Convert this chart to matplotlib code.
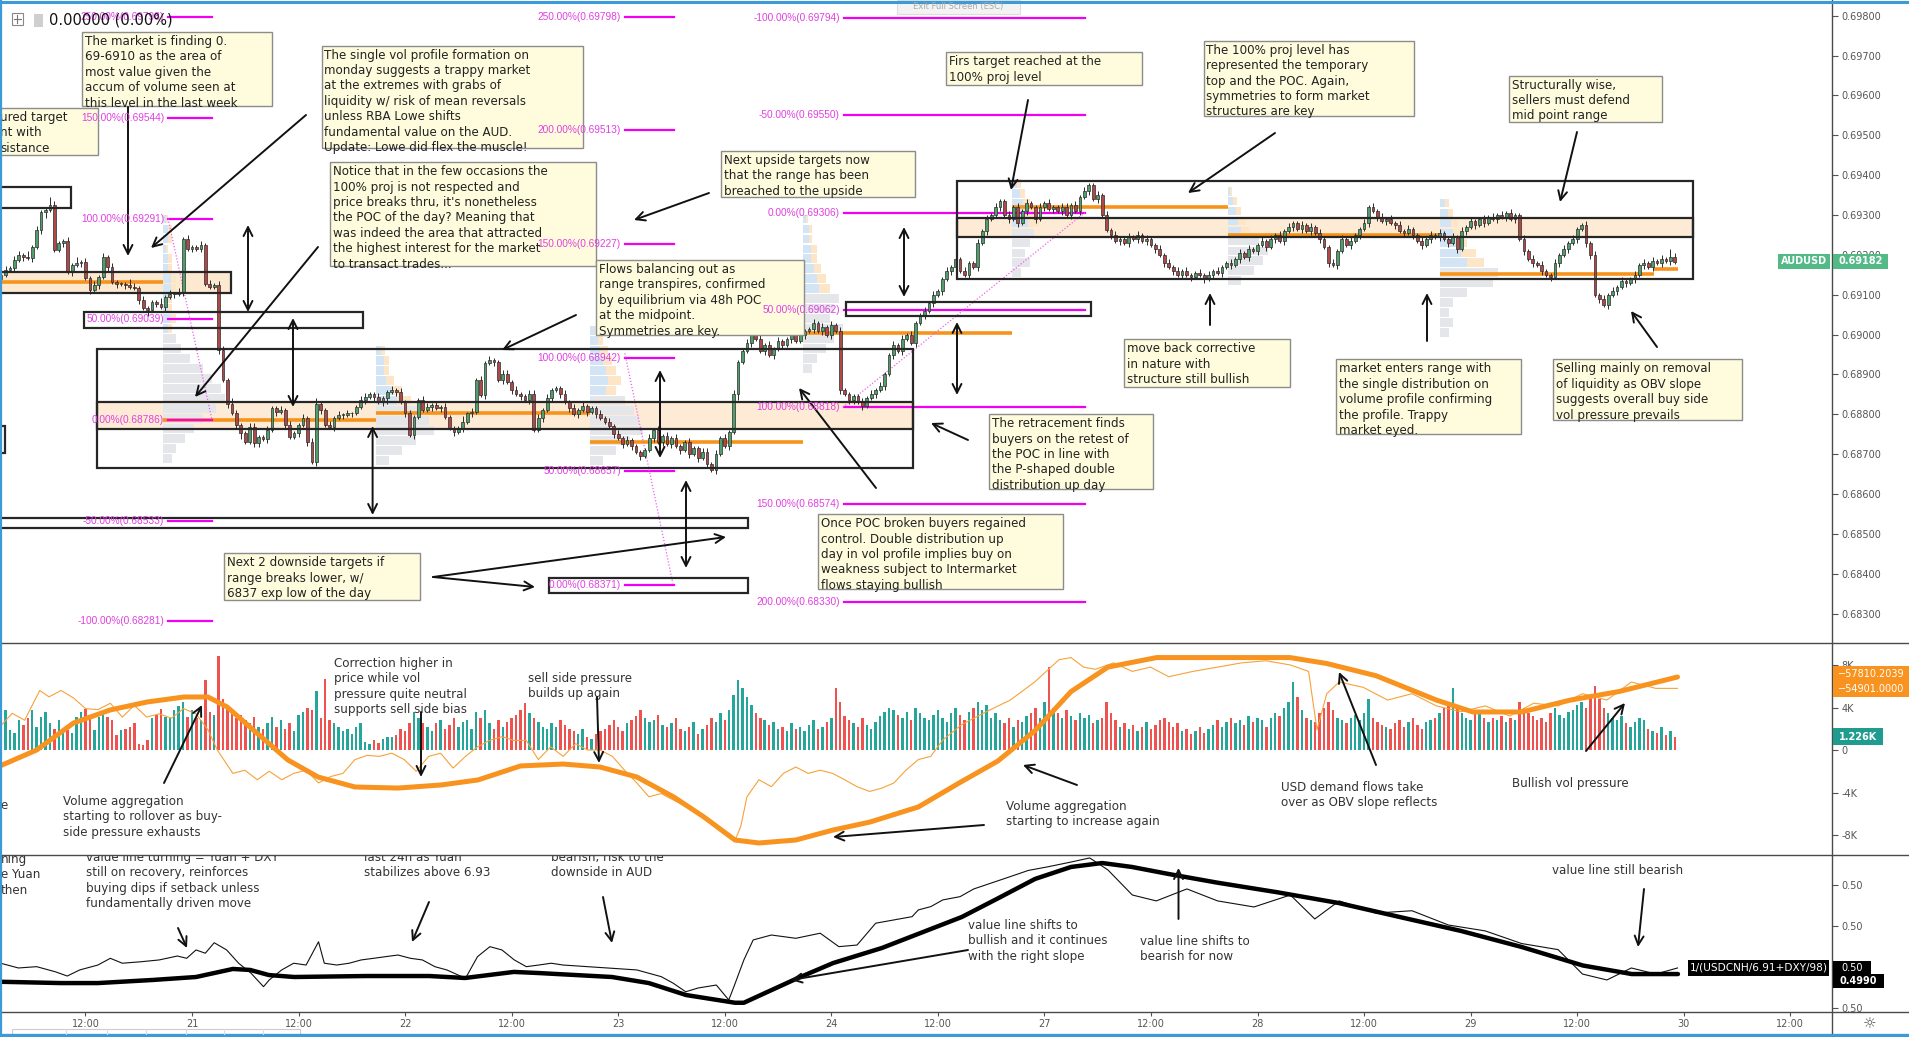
import matplotlib
matplotlib.use("Agg")
import matplotlib.pyplot as plt
import matplotlib.patches as mpatches
import matplotlib.transforms as mtransforms
import numpy as np

plt.rcParams['font.family'] = ['DejaVu Sans']

# AUDUSD 30 min closes, in 0.00001 above 0.68000 (bar 0 = 20th 02:30)
closes = [
    1149, 1162, 1166, 1187, 1200, 1195, 1191, 1220, 1262, 1308, 1312, 1325, 1212, 1229, 1235, 1158, 1174, 1179, 1183, 1141, 1112, 1124, 1145, 1195,
    1170, 1133, 1128, 1128, 1124, 1120, 1116, 1087, 1066, 1062, 1082, 1078, 1070, 1095, 1103, 1103, 1108, 1241, 1216, 1220, 1216, 1225, 1128, 1120,
    1124, 961, 886, 827, 802, 773, 752, 731, 769, 727, 744, 739, 760, 815, 806, 810, 773, 744, 752, 773, 790, 731, 681, 827,
    810, 773, 769, 790, 798, 798, 802, 802, 819, 836, 844, 852, 844, 831, 840, 857, 861, 857, 831, 802, 748, 794, 836, 811,
    819, 823, 815, 819, 794, 765, 756, 765, 781, 802, 806, 886, 848, 928, 936, 932, 886, 900, 880, 861, 850, 845, 836, 850,
    760, 790, 810, 840, 860, 865, 850, 830, 815, 800, 810, 820, 805, 815, 800, 790, 780, 770, 750, 740, 725, 735, 720, 705,
    695, 710, 740, 760, 730, 745, 725, 740, 720, 710, 730, 700, 715, 690, 705, 675, 660, 700, 740, 720, 755, 850, 930, 960,
    980, 1000, 990, 960, 975, 950, 965, 985, 975, 990, 1000, 985, 1000, 1010, 1015, 1030, 1010, 1020, 1000, 1025, 1010, 860, 850, 835,
    845, 830, 820, 840, 850, 860, 870, 900, 950, 975, 960, 990, 1000, 980, 1030, 1050, 1060, 1080, 1100, 1110, 1140, 1160, 1170, 1190,
    1160, 1150, 1180, 1170, 1230, 1260, 1290, 1300, 1320, 1335, 1300, 1290, 1320, 1280, 1310, 1330, 1320, 1290, 1320, 1330, 1315, 1320, 1310, 1320,
    1300, 1325, 1310, 1345, 1360, 1375, 1340, 1350, 1300, 1262, 1250, 1235, 1240, 1230, 1245, 1240, 1250, 1235, 1240, 1225, 1215, 1200, 1180, 1170,
    1160, 1150, 1160, 1150, 1145, 1155, 1150, 1140, 1150, 1160, 1155, 1170, 1180, 1175, 1190, 1205, 1195, 1215, 1210, 1225, 1235, 1220, 1240, 1250,
    1235, 1260, 1270, 1280, 1265, 1275, 1260, 1270, 1255, 1240, 1220, 1180, 1175, 1210, 1240, 1225, 1235, 1250, 1265, 1280, 1320, 1310, 1295, 1285,
    1290, 1280, 1275, 1260, 1255, 1265, 1250, 1235, 1225, 1240, 1250, 1245, 1255, 1240, 1230, 1245, 1215, 1260, 1270, 1285, 1275, 1290, 1280, 1295,
    1290, 1300, 1295, 1305, 1290, 1300, 1240, 1210, 1190, 1180, 1175, 1160, 1150, 1145, 1180, 1200, 1215, 1230, 1240, 1265, 1275, 1230, 1200, 1100,
    1090, 1075, 1100, 1110, 1120, 1135, 1130, 1140, 1150, 1175, 1180, 1170, 1185, 1180, 1190, 1185, 1195, 1182,
]
first_open = 1140
# wick lengths beyond the body, in half pips
wick_hi = ("121221312114211213121212" "121113212111312121211212" "122132112211211212112123"
           "112121211221121121212112" "212121113121212112212112" "221211121212111212121211"
           "112121212112112212121211" "211212121121211212121211" "112121211212121121211212"
           "121121212112121211212112" "212121121212112121211212" "121211212121121212112121"
           "212112121211212121121212" "121212112121211212121121" "212121121212112121211212"
           "121212112121212142")
wick_lo = ("211212121231112121212121" "212121121312121212121211" "121212311221212121121212"
           "211212121121212312121211" "121211212121121212121212" "112121212121212111212121"
           "211212121212121212112131" "121121212121121212121212" "212112121212112121212121"
           "112121211212121212121212" "121212121121212121212121" "212121121212121212121212"
           "121212121212121121212121" "212121212121212121212121" "121212121212121212121221"
           "212121212121212121")

# volume per bar, hundreds
volume = [
    22, 38, 19, 16, 28, 24, 30, 38, 22, 31, 36, 25, 20, 28, 20, 19, 16, 31, 36, 39, 31, 19, 31, 35,
    31, 28, 14, 19, 20, 22, 25, 6, 5, 9, 30, 33, 39, 31, 30, 38, 41, 45, 31, 38, 30, 28, 66, 36,
    33, 88, 48, 40, 36, 30, 33, 28, 25, 31, 22, 20, 25, 31, 22, 28, 20, 25, 18, 33, 36, 40, 38, 56,
    30, 67, 28, 25, 22, 18, 20, 15, 22, 25, 8, 6, 9, 7, 10, 12, 12, 14, 20, 18, 25, 36, 30, 25,
    22, 18, 25, 28, 20, 24, 30, 22, 26, 28, 20, 36, 30, 38, 25, 20, 28, 22, 26, 30, 33, 38, 44, 35,
    30, 26, 22, 20, 25, 22, 28, 24, 20, 18, 15, 20, 12, 10, 15, 18, 20, 24, 28, 22, 18, 25, 28, 32,
    38, 30, 26, 28, 33, 24, 22, 25, 30, 20, 18, 22, 26, 15, 20, 24, 30, 26, 35, 28, 38, 52, 66, 58,
    50, 42, 35, 30, 28, 24, 26, 20, 22, 18, 25, 20, 22, 18, 24, 28, 20, 22, 26, 30, 58, 45, 32, 28,
    25, 22, 30, 24, 20, 26, 32, 36, 40, 38, 33, 30, 36, 28, 40, 35, 30, 28, 33, 38, 30, 26, 35, 40,
    33, 28, 36, 40, 45, 38, 42, 30, 35, 28, 25, 30, 22, 28, 26, 32, 35, 40, 30, 45, 78, 40, 35, 30,
    38, 32, 28, 35, 30, 33, 25, 28, 30, 45, 35, 28, 22, 25, 20, 24, 18, 22, 26, 20, 24, 28, 30, 26,
    22, 25, 18, 20, 15, 18, 22, 16, 20, 24, 28, 22, 26, 30, 25, 28, 24, 32, 26, 30, 28, 22, 30, 35,
    32, 40, 45, 64, 50, 38, 30, 28, 26, 35, 40, 45, 38, 30, 28, 25, 30, 33, 28, 35, 48, 30, 26, 24,
    22, 20, 25, 28, 22, 26, 30, 24, 20, 26, 28, 30, 35, 40, 45, 58, 42, 35, 30, 28, 34, 38, 30, 26,
    30, 28, 32, 26, 30, 28, 45, 40, 35, 32, 28, 30, 26, 35, 40, 33, 30, 36, 38, 42, 45, 40, 50, 60,
    48, 40, 35, 30, 28, 32, 25, 22, 26, 30, 28, 20, 18, 16, 22, 14, 18, 12,
]

# volume aggregation (thick) and OBV (thin), in K
obv_bars = [-0.25, 8, 16.3, 24.5, 32.9, 41.2, 46.6, 50.9, 57.6, 64.6, 71.4, 79.7, 89.4, 99.1, 107.4,
            117, 126.6, 134.9, 143.2, 151.5, 158.3, 165.3, 170.7, 179, 187.4, 195.7, 206.6, 215.8,
            224.5, 232.9, 241, 249.3, 260.3, 274, 290.3, 298.6, 309.7, 323.3, 331.5, 342.5, 353.5,
            364.4, 377.6]
obv_vals = [-1.5, 0.0, 2.54, 3.76, 4.52, 4.99, 4.99, 4.05, 1.6, -0.94, -2.54, -3.48, -3.58, -3.29,
            -2.82, -1.5, -1.32, -1.6, -2.54, -4.42, -6.3, -8.47, -8.75, -8.47, -7.53, -6.78, -5.36,
            -3.1, -1.04, 1.83, 5.5, 7.8, 8.7, 8.7, 8.7, 8.14, 6.99, 4.7, 3.58, 3.58, 4.7, 5.5, 6.87]
obv_thin_bars = [-0.25, 2.5, 5.3, 8.7, 10.8, 13.5, 16.3, 19, 21.8, 24.6,
                 27.3, 30, 32.8, 35.6, 38.4, 41.1, 43.9, 46.6, 48.7, 52.2,
                 54.9, 57.7, 60.4, 63.2, 65.9, 68.7, 71.5, 74.2, 77, 79.7,
                 82.5, 85.2, 88, 90.8, 93.5, 96.3, 99, 101.8, 104.6, 107.3,
                 110, 112.8, 115.6, 118.3, 121, 123.8, 126.6, 129.4, 132.1, 134.9,
                 137.7, 140.4, 143.2, 145.9, 148.7, 151.4, 154.2, 157, 159.7, 162.5,
                 165.2, 166.6, 168, 170.7, 173.5, 176.2, 179, 181.8, 184.5, 187.3,
                 190, 192.8, 195.6, 198.3, 201.1, 203.8, 206.6, 209.4, 212.1, 216.4,
                 221.9, 227.3, 232.8, 238.3, 241, 243.8, 246.5, 250.6, 254.8, 258.9,
                 263, 268.5, 274, 279.4, 284.9, 290.4, 294.5, 296.4, 298.6, 301.4,
                 306.8, 312.3, 317.8, 323.3, 328.8, 334.3, 339.8, 345.2, 350.7, 356.2,
                 361.7, 367.2, 372.7, 377.6]
obv_thin_vals = [2.2, 3.45, 2.8, 5.6, 5.0, 5.6, 4.9, 3.9, 3.8, 4.4,
                 3.1, 4.2, 3.1, 3.4, 3.0, 3.9, 3.4, 1.9, 0.0, -2.2,
                 -1.9, -2.8, -2.0, -2.8, -2.2, -1.9, -3.1, -2.5, -2.2, -0.9,
                 -0.5, -0.6, -0.3, -0.9, -2.0, -0.6, -0.3, -1.7, -0.6, 0.3,
                 0.9, 1.25, 0.9, 0.9, -0.9, 0.3, -0.6, 0.6, 0.0, 0.0,
                 -0.6, -1.9, -3.1, -4.4, -4.1, -4.7, -5.3, -6.0, -6.9, -7.8,
                 -8.6, -7.2, -4.4, -2.8, -3.45, -2.2, -1.6, -2.2, -1.9, -2.2,
                 -2.8, -3.45, -3.9, -3.6, -3.1, -1.9, -0.9, -0.6, 0.94, 2.4,
                 3.6, 4.7, 6.4, 8.5, 8.7, 7.8, 7.6, 8.2, 7.4, 7.8,
                 6.9, 7.4, 7.8, 8.2, 8.4, 8.0, 7.4, 1.9, 5.3, 6.4,
                 5.9, 4.7, 5.3, 4.15, 3.6, 4.15, 3.2, 4.4, 4.15, 5.3,
                 4.7, 6.4, 5.8, 5.8]

# value line 1/(USDCNH/6.91+DXY/98): smoothed (thick) and raw (thin)
value_bars = [-0.25, 13.5, 21.8, 34.2, 43.9, 52.2, 56.1, 60.3, 66, 82.4,
              96.4, 104.5, 115.5, 121.2, 137.6, 145.9, 154.3, 165.3, 167.3, 179,
              187.4, 198.4, 216.4, 224.5, 232.9, 241, 248, 254.7, 263, 274,
              287.6, 301.3, 315, 328.8, 342.5, 356.3, 367.3, 377.7]
value_vals = [0.49910, 0.49902, 0.49902, 0.49921, 0.49939, 0.49988, 0.49982, 0.49951, 0.49939, 0.49945,
              0.49945, 0.49933, 0.49970, 0.49963, 0.49939, 0.49902, 0.49829, 0.49782, 0.49782, 0.49927,
              0.50024, 0.50116, 0.50305, 0.50418, 0.50537, 0.50610, 0.50634, 0.50610, 0.50567, 0.50514,
              0.50455, 0.50390, 0.50305, 0.50220, 0.50122, 0.50009, 0.49957, 0.49957]
raw_bars = [-0.25, 3.9, 8.0, 12.2, 14.9, 17.7, 21.8, 24.6, 27.3, 31.5,
            35.6, 39.7, 41.8, 43.9, 46, 48, 50.8, 53.5, 56.3, 59.1,
            60.4, 63.2, 65.9, 68.7, 71.5, 72.8, 75.6, 78.4, 81.1, 83.9,
            86.6, 89.4, 92.2, 94.9, 97.7, 100.4, 104.6, 107.3, 110.1, 112.8,
            115.6, 118.3, 121.1, 123.9, 126.6, 132.1, 137.7, 143.2, 148.7, 151.4,
            154.2, 157, 161.1, 163.9, 165.2, 167.3, 169.4, 173.5, 179, 184.5,
            188.7, 192.8, 197, 201.1, 205.2, 206.6, 209.4, 212.1, 216, 219.1,
            227.3, 231.4, 235.6, 241, 245.2, 249.3, 254.8, 260.2, 267.1, 274,
            282.2, 290.4, 295.9, 301.4, 309.6, 317.8, 326, 334.3, 342.5, 350.7,
            356.2, 361.7, 367.2, 372.7, 377.6]
raw_vals = [0.50024, 0.49994, 0.50002, 0.49971, 0.49945, 0.49982, 0.50012, 0.50053, 0.50023, 0.50032,
            0.50043, 0.50067, 0.50053, 0.50104, 0.50084, 0.50148, 0.50104, 0.50023, 0.49962, 0.49880,
            0.49921, 0.49982, 0.50023, 0.50012, 0.50154, 0.50023, 0.50012, 0.50023, 0.50043, 0.50053,
            0.50063, 0.50073, 0.50053, 0.50043, 0.50002, 0.49982, 0.49931, 0.50063, 0.50124, 0.50104,
            0.50043, 0.50002, 0.50012, 0.50023, 0.50012, 0.50002, 0.49992, 0.49982, 0.49941, 0.49901,
            0.49849, 0.49872, 0.49890, 0.49799, 0.49890, 0.50043, 0.50165, 0.50195, 0.50175, 0.50206,
            0.50124, 0.50134, 0.50267, 0.50287, 0.50307, 0.50348, 0.50368, 0.50409, 0.50429, 0.50476,
            0.50551, 0.50589, 0.50610, 0.50640, 0.50665, 0.50592, 0.50439, 0.50403, 0.50476, 0.50403,
            0.50366, 0.50439, 0.50293, 0.50403, 0.50329, 0.50343, 0.50256, 0.50220, 0.50143, 0.50106,
            0.49957, 0.49921, 0.49994, 0.49957, 0.49994]

# session volume profiles: start bar, top price, row lengths (bars), 0.00025 per row
profile_start = [36.5, 84.4, 132.6, 180.7, 227.7, 276.3, 324.1]
profile_top = [0.6929, 0.6896, 0.6901, 0.6929, 0.6938, 0.6936, 0.6933]
profile_rows = [
    [1, 2, 2, 1, 2, 2, 3, 3, 2, 2, 3, 2, 3, 4, 6, 9, 11, 13, 14, 12, 9, 7, 5, 3, 2],
    [2, 3, 3, 4, 6, 8, 10, 12, 13, 9, 6, 3],
    [2, 3, 4, 5, 6, 7, 6, 8, 10, 11, 12, 9, 6, 3],
    [1, 2, 2, 3, 3, 4, 5, 6, 8, 7, 6, 9, 7, 5, 3, 2],
    [2, 3, 4, 5, 6, 5, 4, 3, 4, 2],
    [1, 2, 3, 4, 5, 7, 9, 8, 6, 3],
    [2, 3, 4, 5, 6, 8, 10, 13, 12, 6, 3, 2, 3, 2],
]

# fib projections
fib_left = ['250.00%', '150.00%', '100.00%', '50.00%', '0.00%', '-50.00%', '-100.00%']
fib_left_p = [0.69798, 0.69544, 0.69291, 0.69039, 0.68786, 0.68533, 0.68281]
fib_mid = ['250.00%', '200.00%', '150.00%', '100.00%', '50.00%', '0.00%']
fib_mid_p = [0.69798, 0.69513, 0.69227, 0.68942, 0.68657, 0.68371]
fib_right = ['-100.00%', '-50.00%', '0.00%', '50.00%', '100.00%', '150.00%', '200.00%']
fib_right_p = [0.69794, 0.69550, 0.69306, 0.69062, 0.68818, 0.68574, 0.68330]

# POC levels per session: (from bar, to bar, price)
poc_lines = [(-1, 36.5, 0.69131), (36.5, 84.4, 0.68786), (84.4, 132.6, 0.68803),
             (132.6, 180.7, 0.68730), (180.7, 227.8, 0.69005), (227.8, 276.3, 0.69319),
             (276.3, 324.1, 0.69250), (324.1, 372.2, 0.69152), (372.2, 377.8, 0.69165)]

tick_bars = [19, 43, 67, 91, 115, 139, 163, 187, 211, 235, 259, 283, 307, 331, 355, 379, 403]
tick_text = ['12:00', '21', '12:00', '22', '12:00', '23', '12:00', '24', '12:00', '27',
             '12:00', '28', '12:00', '29', '12:00', '30', '12:00']

W, H = 1909, 1037
fig = plt.figure(figsize=(W / 100, H / 100), dpi=100)
P = mtransforms.Affine2D().scale(1.0 / W, -1.0 / H).translate(0, 1) + fig.transFigure


def rect(x0, y0, x1, y1):
    return [x0 / W, 1 - y1 / H, (x1 - x0) / W, (y1 - y0) / H]


ax = fig.add_axes(rect(0, 0, 1832, 643))
axv = fig.add_axes(rect(0, 643, 1832, 855))
axl = fig.add_axes(rect(0, 855, 1832, 1012))
for a in (ax, axv, axl):
    a.set_xlim(-0.25, 412.4)
    for s in a.spines.values():
        s.set_visible(False)
    a.yaxis.tick_right()
    a.tick_params(axis='y', direction='out', length=4, width=0.8, color='#555555',
                  labelsize=7, labelcolor='#555555', pad=3)
    a.tick_params(axis='x', bottom=False, labelbottom=False)
ax.set_ylim(0.682261, 0.698396)
axv.set_ylim(-9.88, 10.07)
axl.set_ylim(0.497256, 0.506829)

yt = [round(0.683 + 0.001 * k, 3) for k in range(16)]
ax.set_yticks(yt)
ax.set_yticklabels(['%.5f' % v for v in yt])
axv.set_yticks([8, 4, 0, -4, -8])
axv.set_yticklabels(['8K', '4K', '0', '-4K', '-8K'])
axl.set_yticks([0.5050, 0.5025, 0.5000, 0.4975])
axl.set_yticklabels(['0.50'] * 4)
axl.set_xticks(tick_bars)
axl.set_xticklabels(tick_text)
axl.tick_params(axis='x', bottom=True, labelbottom=True, direction='out', length=3,
                color='#555555', labelsize=7, labelcolor='#555555', pad=2)

# ---- candles ----
n = len(closes)
xb = np.arange(n)
c = 0.68 + np.array(closes) / 1e5
o = np.concatenate([[0.68 + first_open / 1e5], c[:-1]])
wh = np.array([int(wick_hi[i]) if i < len(wick_hi) else 1 for i in range(n)]) * 0.00005
wl = np.array([int(wick_lo[i]) if i < len(wick_lo) else 1 for i in range(n)]) * 0.00005
hi = np.maximum(o, c) + wh
lo = np.minimum(o, c) - wl
up = c >= o
ax.vlines(xb, lo, hi, color='#2b2b2b', lw=0.7, zorder=4)
ax.bar(xb, np.maximum(np.abs(c - o), 0.00002), bottom=np.minimum(o, c), width=0.62,
       color=np.where(up, '#4f9f6c', '#b04848'), edgecolor='#2b2b2b', linewidth=0.5, zorder=4.5)

# ---- volume profiles ----
for b0, top, rows in zip(profile_start, profile_top, profile_rows):
    ys = top - 0.00025 * np.arange(len(rows))
    lens = np.array(rows, dtype=float)
    half = len(rows) // 2
    ax.barh(ys[:half], lens[:half] * 0.6, left=b0, height=0.00022, color='#d3e5f5', lw=0, zorder=1.5)
    ax.barh(ys[:half], lens[:half] * 0.4, left=b0 + lens[:half] * 0.6, height=0.00022,
            color='#fde6c8', lw=0, zorder=1.5)
    ax.barh(ys[half:], lens[half:], left=b0, height=0.00022, color='#e4e6ea', lw=0, zorder=1.5)


# ---- range boxes ----
def box(b0, b1, p0, p1, fill=None):
    if fill:
        ax.add_patch(mpatches.Rectangle((b0, p0), b1 - b0, p1 - p0, facecolor=fill,
                                        edgecolor='none', zorder=1))
    ax.add_patch(mpatches.Rectangle((b0, p0), b1 - b0, p1 - p0, facecolor='none',
                                    edgecolor='#262626', lw=1.6, zorder=5))


box(-1, 15.7, 0.69317, 0.69371)
box(-1, 51.7, 0.69104, 0.69156, '#fde9d0')
box(18.7, 81.5, 0.69016, 0.69057)
box(21.7, 205.4, 0.68664, 0.68963)
box(21.7, 205.4, 0.68762, 0.68832, '#fdebd5')
box(-1, 168.2, 0.68514, 0.68541)
box(123.3, 168.2, 0.68352, 0.68390)
box(-1, 0.9, 0.68703, 0.68771)
box(190.3, 245.6, 0.69047, 0.69083)
box(215.4, 381.0, 0.69139, 0.69385)
box(215.4, 381.0, 0.69244, 0.69292, '#fdebd5')

for b0, b1, p in poc_lines:
    ax.plot([b0, b1], [p, p], color='#f7931a', lw=2.6, solid_capstyle='butt', zorder=2)

# ---- fib projections ----
for labs, prices, (b0, b1) in [(fib_left, fib_left_p, (37.6, 47.5)),
                               (fib_mid, fib_mid_p, (140.5, 151.6)),
                               (fib_right, fib_right_p, (189.8, 244.1))]:
    for lab, p in zip(labs, prices):
        ax.plot([b0, b1], [p, p], color='#f000f0', lw=1.6, zorder=3)
        fig.text(b0 - 0.9, p, '%s(%.5f)' % (lab, p), transform=ax.transData, ha='right',
                 va='center', color='#e040e0', fontsize=7.3, family='Liberation Sans', zorder=6)
ax.plot([37.6, 47.5], [0.69291, 0.68786], color='#f060f0', lw=0.9, ls=(0, (1, 1.5)), zorder=3)
ax.plot([140.5, 151.3], [0.68953, 0.68376], color='#f060f0', lw=0.9, ls=(0, (1, 1.5)), zorder=3)
ax.plot([189.6, 244.1], [0.68818, 0.69306], color='#f060f0', lw=0.9, ls=(0, (1, 1.5)), zorder=3)

# ---- volume / OBV ----
axv.bar(xb, np.array(volume[:n]) / 10.0, width=0.55,
        color=np.where(up, '#26a69a', '#ef5350'), zorder=2)
axv.plot(obv_thin_bars, obv_thin_vals, color='#f6a23a', lw=0.8, zorder=3)
axv.plot(obv_bars, obv_vals, color='#f7931e', lw=3.6, solid_joinstyle='round',
         solid_capstyle='round', zorder=4)

# ---- value line ----
axl.plot(raw_bars, raw_vals, color='#111111', lw=0.8, zorder=3)
axl.plot(value_bars, value_vals, color='#000000', lw=3.2, solid_joinstyle='round',
         solid_capstyle='round', zorder=4)

# ---- frame lines ----
for yy in (643, 855, 1012):
    fig.add_artist(plt.Line2D([0, W], [yy, yy], transform=P, color='#4a4a4a', lw=1.0, zorder=2))
fig.add_artist(plt.Line2D([1832, 1832], [0, 1037], transform=P, color='#4a4a4a', lw=1.0, zorder=2))
fig.add_artist(plt.Line2D([0, W], [1.5, 1.5], transform=P, color='#3d9ad9', lw=2.2, zorder=9))
fig.add_artist(plt.Line2D([1, 1], [0, 1037], transform=P, color='#3d9ad9', lw=1.6, zorder=9))
fig.add_artist(plt.Line2D([0, W], [1035, 1035], transform=P, color='#3d9ad9', lw=2.4, zorder=9))

# ---- note boxes ----
FS = 8.6
LS = 1.24


def note(x0, y0, x1, y1, s):
    fig.add_artist(mpatches.Rectangle((x0, y0), x1 - x0, y1 - y0, transform=P, facecolor='#fefcdc',
                                      edgecolor='#8c8c8c', lw=1.0, zorder=4))
    fig.text(x0 + 3, y0 + 3, s, transform=P, ha='left', va='top', fontsize=FS, color='#222222',
             linespacing=LS, zorder=4.5)


note(82, 32, 272, 106, "The market is finding 0.\n69-6910 as the area of\nmost value given the\naccum of volume seen at\nthis level in the last week")
note(-3, 108, 98, 155, "ured target\nnt with\nsistance")
note(321.5, 45.7, 582.5, 148.3, "The single vol profile formation on\nmonday suggests a trappy market\nat the extremes with grabs of\nliquidity w/ risk of mean reversals\nunless RBA Lowe shifts\nfundamental value on the AUD.\nUpdate: Lowe did flex the muscle!")
note(330, 162.3, 596, 265.7, "Notice that in the few occasions the\n100% proj is not respected and\nprice breaks thru, it's nonetheless\nthe POC of the day? Meaning that\nwas indeed the area that attracted\nthe highest interest for the market\nto transact trades...")
note(721, 150.7, 915, 197.3, "Next upside targets now\nthat the range has been\nbreached to the upside")
note(596, 260, 803.6, 335, "Flows balancing out as\nrange transpires, confirmed\nby equilibrium via 48h POC\nat the midpoint.\nSymmetries are key.")
note(946, 52.3, 1141.5, 85.3, "Firs target reached at the\n100% proj level")
note(1203.5, 40.7, 1414, 115.7, "The 100% proj level has\nrepresented the temporary\ntop and the POC. Again,\nsymmetries to form market\nstructures are key")
note(1509, 75.7, 1662, 122.3, "Structurally wise,\nsellers must defend\nmid point range")
note(1123.7, 339.3, 1290, 386.7, "move back corrective\nin nature with\nstructure still bullish")
note(1336, 359.3, 1521, 434.3, "market enters range with\nthe single distribution on\nvolume profile confirming\nthe profile. Trappy\nmarket eyed.")
note(1553, 359.3, 1742, 420, "Selling mainly on removal\nof liquidity as OBV slope\nsuggests overall buy side\nvol pressure prevails")
note(988.6, 414.3, 1153, 489.3, "The retracement finds\nbuyers on the retest of\nthe POC in line with\nthe P-shaped double\ndistribution up day")
note(817.7, 514.3, 1063.4, 589.3, "Once POC broken buyers regained\ncontrol. Double distribution up\nday in vol profile implies buy on\nweakness subject to Intermarket\nflows staying bullish")
note(223.7, 553.3, 419.5, 600, "Next 2 downside targets if\nrange breaks lower, w/\n6837 exp low of the day")


def plain(x, y, s, axis=None):
    if axis is None:
        fig.text(x, y, s, transform=P, ha='left', va='top', fontsize=FS, color='#333333',
                 linespacing=LS, zorder=4.5)
    else:
        axis.text(x, y, s, transform=P, ha='left', va='top', fontsize=FS, color='#333333',
                  linespacing=LS, clip_on=True, zorder=6)


plain(63, 795, "Volume aggregation\nstarting to rollover as buy-\nside pressure exhausts")
plain(334, 657, "Correction higher in\nprice while vol\npressure quite neutral\nsupports sell side bias")
plain(528, 672, "sell side pressure\nbuilds up again")
plain(1006, 800, "Volume aggregation\nstarting to increase again")
plain(1281, 781, "USD demand flows take\nover as OBV slope reflects")
plain(1512, 777, "Bullish vol pressure")
plain(0, 799, "e")
plain(1, 853, "hing\ne Yuan\nthen", axl)
plain(86, 851, "value line turning = Yuan + DXY\nstill on recovery, reinforces\nbuying dips if setback unless\nfundamentally driven move", axl)
plain(364, 851, "last 24h as Yuan\nstabilizes above 6.93", axl)
plain(551, 851, "bearish, risk to the\ndownside in AUD", axl)
plain(968, 919, "value line shifts to\nbullish and it continues\nwith the right slope")
plain(1139.6, 935, "value line shifts to\nbearish for now")
plain(1552, 864, "value line still bearish")

# ---- arrows ----
arrows = [
    ((128, 107), (128, 256), '->'), ((306, 115), (151, 248), '->'), ((318, 247), (195, 397), '->'),
    ((248, 225), (248, 312), '<->'), ((293, 318), (293, 407), '<->'), ((372.6, 426), (372.6, 515), '<->'),
    ((576, 315), (502, 350), '->'), ((660, 370), (660, 458), '<->'), ((686, 480), (686, 568), '<->'),
    ((433, 577), (726, 537), '->'), ((433, 577), (535, 587), '->'), ((876, 488), (799, 388), '->'),
    ((968, 440), (931, 423), '->'), ((957, 322), (957, 395), '<->'), ((904, 227), (904, 297), '<->'),
    ((709, 193), (634, 220), '->'), ((1028, 100), (1011, 190), '->'), ((1275, 133), (1188, 193), '->'),
    ((1577, 132), (1560, 202), '->'), ((1210, 325), (1210, 293), '->'), ((1427, 341), (1427, 293), '->'),
    ((1657, 347), (1631, 311), '->'),
    ((164, 783), (202, 705), '->'), ((421, 712), (421, 777), '->'), ((597, 697), (599, 763), '->'),
    ((984, 825), (833, 837), '->'), ((1077, 785), (1023, 765), '->'), ((1376, 765), (1339, 672), '->'),
    ((1586, 751), (1625, 703), '->'),
    ((178, 928), (187, 948), '->'), ((429, 902), (412, 942), '->'), ((603, 897), (612, 943), '->'),
    ((968, 950), (791, 980), '->'), ((1178.5, 919), (1178.5, 868), '->'), ((1644, 889), (1638, 947), '->'),
]
for a, b, st in arrows:
    fig.add_artist(mpatches.FancyArrowPatch(a, b, transform=P, arrowstyle=st, mutation_scale=16,
                                            lw=1.4, color='#111111', shrinkA=0, shrinkB=0, zorder=5))


# ---- price scale tags ----
def tag(x0, y0, x1, y1, s, fc, tc='white', size=7, weight='normal'):
    fig.add_artist(mpatches.Rectangle((x0, y0), x1 - x0, y1 - y0, transform=P, facecolor=fc,
                                      edgecolor='none', zorder=7))
    fig.text((x0 + x1) / 2, (y0 + y1) / 2, s, transform=P, ha='center', va='center', color=tc,
             fontsize=size, fontweight=weight, zorder=8)


tag(1778, 254, 1830, 269, 'AUDUSD', '#53b987', weight='bold')
tag(1833, 254, 1888, 269, '0.69182', '#53b987', weight='bold')
tag(1833, 666, 1909, 697, '', '#f7931e')
fig.text(1871, 674, '\u221257810.2039', transform=P, ha='center', va='center', color='white', fontsize=7, zorder=8)
fig.text(1871, 689, '\u221254901.0000', transform=P, ha='center', va='center', color='white', fontsize=7, zorder=8)
tag(1833, 728, 1883, 745, '1.226K', '#1f9c8e', weight='bold')
tag(1688, 960, 1829, 976, '1/(USDCNH/6.91+DXY/98)', '#000000', size=7.6)
tag(1833, 961, 1871, 975, '0.50', '#000000')
tag(1833, 974, 1884, 988, '0.4990', '#000000', weight='bold')

# ---- chrome ----
fig.add_artist(mpatches.Rectangle((11.5, 13), 11.5, 12, transform=P, facecolor='white',
                                  edgecolor='#888888', lw=0.8, zorder=8))
fig.add_artist(plt.Line2D([13.5, 21], [19, 19], transform=P, color='#777777', lw=0.8, zorder=9))
fig.add_artist(plt.Line2D([17.25, 17.25], [15, 23], transform=P, color='#777777', lw=0.8, zorder=9))
fig.add_artist(mpatches.Rectangle((34, 14), 9, 13, transform=P, facecolor='#cfcfcf',
                                  edgecolor='none', zorder=8))
fig.text(49, 20, '0.00000 (0.00%)', transform=P, ha='left', va='center', fontsize=10.5,
         color='#111111', zorder=8)
fig.add_artist(mpatches.Rectangle((897, 0), 123, 14, transform=P, facecolor='#f3f3f3',
                                  edgecolor='#dddddd', lw=0.8, zorder=8))
fig.text(958, 7, 'Exit Full Screen (ESC)', transform=P, ha='center', va='center', fontsize=6,
         color='#aaaaaa', zorder=9)
fig.add_artist(mpatches.Rectangle((12, 1029), 288, 8, transform=P, facecolor='white',
                                  edgecolor='#cccccc', lw=0.8, zorder=8))
for xd in (66, 107, 146, 186, 224, 263):
    fig.add_artist(plt.Line2D([xd, xd], [1029, 1034], transform=P, color='#dddddd', lw=0.8, zorder=9))
fig.text(1870, 1024, '\u263c', transform=P, ha='center', va='center', fontsize=11,
         color='#555555', zorder=9)

fig.savefig('out.png', dpi=100)
